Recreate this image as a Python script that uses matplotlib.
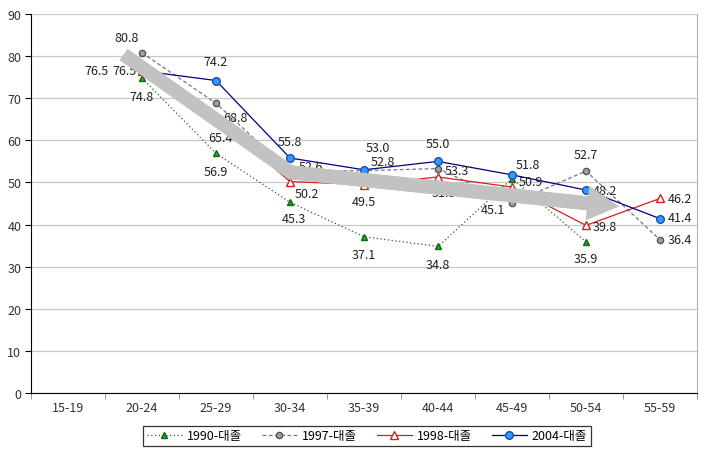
import numpy as np
import matplotlib
matplotlib.use("Agg")
import matplotlib.pyplot as plt
from matplotlib.patches import FancyArrowPatch
from matplotlib.lines import Line2D

plt.rcParams['font.family'] = ['Noto Sans CJK KR', 'DejaVu Sans']

categories = ['15-19', '20-24', '25-29', '30-34', '35-39', '40-44', '45-49', '50-54', '55-59']
nan = np.nan
s1990 = [nan, 74.8, 56.9, 45.3, 37.1, 34.8, 50.9, 35.9, nan]
s1997 = [nan, 80.8, 68.8, 52.6, 52.8, 53.3, 45.1, 52.7, 36.4]
s1998 = [nan, 76.5, 65.4, 50.2, 49.5, 51.3, 48.9, 39.8, 46.2]
s2004 = [nan, 76.5, 74.2, 55.8, 53.0, 55.0, 51.8, 48.2, 41.4]
names = ['1990-대졸', '1997-대졸', '1998-대졸', '2004-대졸']
yticks = [0, 10, 20, 30, 40, 50, 60, 70, 80, 90]

# label offsets (pixels) per series per point: (dx, dy, ha)
off1990 = [None, (0, -18, 'center'), (0, -18, 'center'), (4, -16, 'center'), (0, -18, 'center'),
           (0, -18, 'center'), (7, -3, 'left'), (0, -17, 'center'), None]
off1997 = [None, (-15, 15, 'center'), (7, -14, 'left'), (9, 5, 'left'), (7, 9, 'left'),
           (7, -2, 'left'), (-7, -6, 'right'), (0, 17, 'center'), (8, 0, 'left')]
off1998 = [None, (-5, 0, 'right'), (4, -20, 'center'), (5, -12, 'left'), (0, -17, 'center'),
           (6, -16, 'center'), (0, -8, 'center'), (7, -1, 'left'), (8, 0, 'left')]
off2004 = [None, (-33, 0, 'right'), (0, 19, 'center'), (0, 17, 'center'), (14, 22, 'center'),
           (0, 18, 'center'), (16, 10, 'center'), (7, 0, 'left'), (8, 1, 'left')]

fig = plt.figure(figsize=(7.08, 4.60), dpi=100)
ax = fig.add_axes([31/708, 1-394/460, (697-31)/708, (394-15)/460])

x = np.arange(len(categories))
styles = [
    dict(color='#2f5f2f', ls=(0, (1, 2)), lw=0.9, marker='^', ms=5, mfc='#22aa22', mec='#116611'),
    dict(color='#777777', ls=(0, (3, 2)), lw=0.9, marker='o', ms=4.5, mfc='#a0a0a0', mec='#555555'),
    dict(color='#d02020', ls='-', lw=0.9, marker='^', ms=5.5, mfc='white', mec='#d02020'),
    dict(color='#000080', ls='-', lw=0.9, marker='o', ms=5.5, mfc='#3399ff', mec='#1050b0'),
]
series = [s1990, s1997, s1998, s2004]
offs = [off1990, off1997, off1998, off2004]
for s, st, nm, of in zip(series, styles, names, offs):
    ax.plot(x, s, label=nm, zorder=3, **st)
    for xi, v, o in zip(x, s, of):
        if np.isnan(v) or o is None:
            continue
        ax.annotate(f'{v:.1f}', (xi, v), xytext=(o[0], o[1]), textcoords='offset pixels',
                    ha=o[2], va='center', fontsize=9, color='#222222', zorder=4)

# big gray trend arrow (annotation shape)
arrow_col = '#c2c2c2'
ax.add_line(Line2D([0.75, 3.01, 7.03], [80.4, 52.4, 45.0], color=arrow_col, lw=10,
                   solid_joinstyle='miter', solid_capstyle='butt', zorder=5))
ar = FancyArrowPatch((3.01, 52.4), (7.45, 44.3),
                     arrowstyle='simple,head_length=0.48,head_width=0.52,tail_width=0.21',
                     mutation_scale=48, color=arrow_col, lw=0, shrinkA=0, shrinkB=0, zorder=5)
ax.add_patch(ar)

ax.set_xlim(-0.5, len(categories) - 0.5)
ax.set_ylim(0, 90)
ax.set_yticks(yticks)
ax.set_yticklabels([str(t) for t in yticks], fontsize=9, color='#333333')
ax.set_xticks(x)
ax.set_xticklabels(categories, fontsize=9, color='#333333')
ax.set_xticks(np.arange(len(categories) + 1) - 0.5, minor=True)
ax.tick_params(axis='x', which='major', length=0, pad=6)
ax.tick_params(axis='x', which='minor', length=4, color='#888888')
ax.tick_params(axis='y', length=4, pad=3)
ax.yaxis.grid(True, color='#c8c8c8', lw=0.9)
ax.set_axisbelow(True)
ax.spines['left'].set_color('black')
ax.spines['bottom'].set_color('black')
ax.spines['top'].set_visible(False)
ax.spines['right'].set_color('#b0b0b0')

leg = fig.legend(loc='center', bbox_to_anchor=(367/708, 1-437/460), ncol=4, fontsize=9,
                 frameon=True, fancybox=False, edgecolor='black', handlelength=2.8,
                 columnspacing=1.6, handletextpad=0.4, borderpad=0.3)
leg.get_frame().set_linewidth(0.9)

fig.savefig('out.png', dpi=100)
